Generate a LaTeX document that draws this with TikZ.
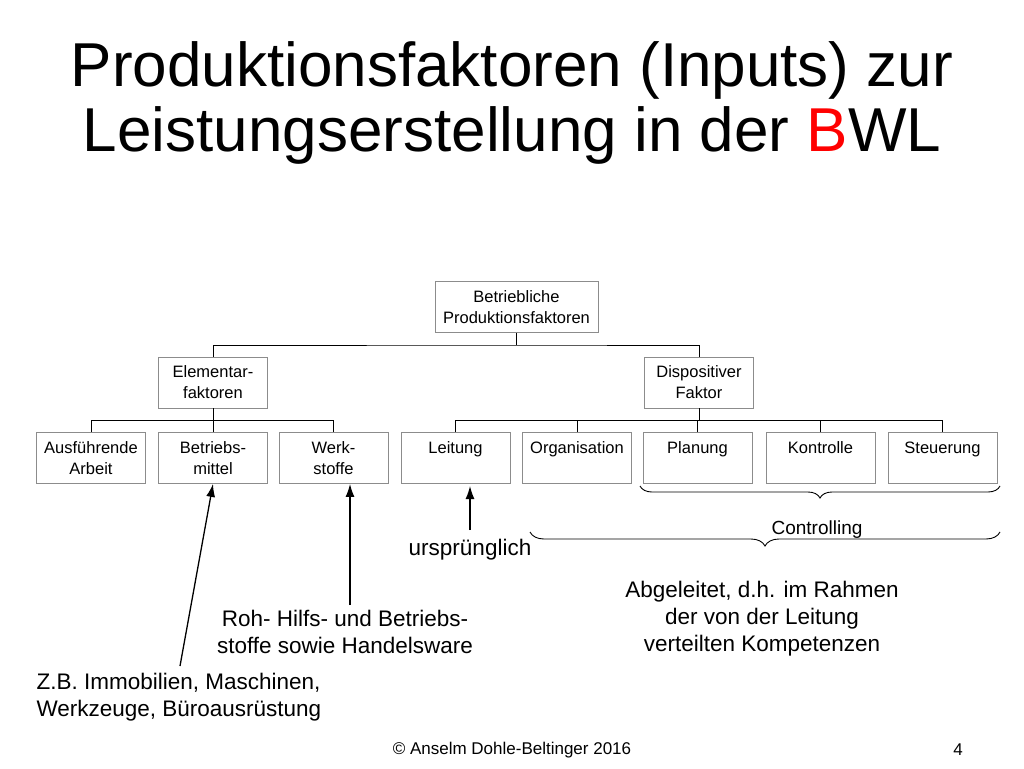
\documentclass[tikz,border=0pt]{standalone}
\usepackage{fontspec}
\setmainfont{Liberation Sans}
\usetikzlibrary{decorations.pathreplacing,arrows.meta}
\begin{document}
\begin{tikzpicture}[x=1pt,y=-1pt,
  bx/.style={draw=black!45,line width=0.8pt,minimum width=109pt,minimum height=51pt,inner sep=2pt,font=\fontsize{16.5}{21}\selectfont,align=center},
  ln/.style={draw=black,line width=0.8pt},
  ar/.style={draw=black,line width=1.3pt,-{Latex[length=13pt,width=9pt]}},
  br/.style={draw=black,line width=0.9pt,decorate,decoration={brace,amplitude=12pt}},
  lbl/.style={font=\fontsize{22.5}{27}\selectfont,align=center}]
\useasboundingbox (0,0) rectangle (1024,768);
\node[font=\fontsize{62}{65}\selectfont,align=center] (title) at (512,103) {Produktionsfaktoren (Inputs) zur\\Leistungserstellung in der \textcolor{red}{B}WL};
\node[bx,minimum width=163pt] (top) at (516.5,307) {Betriebliche\\Produktionsfaktoren};
\node[bx] (el) at (213,382.5) {Elementar-\\faktoren};
\node[bx] (di) at (699,382.5) {Dispositiver\\Faktor};
\foreach \n/\x/\t in {a/91/{Ausführende\\Arbeit},b/213/{Betriebs-\\mittel},c/333.5/{Werk-\\stoffe},d/455.5/{Leitung\\\mbox{}},e/577/{Organisation\\\mbox{}},f/697.5/{Planung\\\mbox{}},g/820.5/{Kontrolle\\\mbox{}},h/942.5/{Steuerung\\\mbox{}}}
  \node[bx] (\n) at (\x,458) {\t};
\coordinate (h1) at (516.5,345);
\draw[ln] (top.south) -- (h1);
\draw[ln] (el.north) |- (h1) -| (di.north);
\draw[ln] (el.south) -- ++(0,12) coordinate (h2);
\draw[ln] (a.north) |- (h2) -| (c.north);
\draw[ln] (b.north) -- (h2);
\draw[ln] (di.south) -- ++(0,12) coordinate (h3);
\draw[ln] (d.north) |- (h3) -| (h.north);
\foreach \n in {e,f,g} \draw[ln] (\n.north) -- (\n.north|-h3);
\coordinate (b1a) at (1000,486); \coordinate (b1b) at (640,486);
\draw[br] (b1a) -- (b1b);
\node[font=\fontsize{19}{22}\selectfont] (ctrl) at (817,530) {Controlling};
\coordinate (b2a) at (1000,532); \coordinate (b2b) at (530,532);
\draw[br,decoration={amplitude=14pt}] (b2a) -- (b2b);
\node[lbl] (abg) at (762,619) {Abgeleitet, d.h. im Rahmen\\der von der Leitung\\verteilten Kompetenzen};
\node[lbl] (urs) at (470,550) {ursprünglich};
\coordinate (u0) at (470,530);
\draw[ar] (u0) -- (470,486);
\node[lbl] (roh) at (345,632) {Roh- Hilfs- und Betriebs-\\stoffe sowie Handelsware};
\coordinate (r0) at (350,605);
\draw[ar] (r0) -- (c.south-|r0);
\node[lbl,align=left,anchor=west] (zb) at (33,697) {Z.B. Immobilien, Maschinen,\\Werkzeuge, Büroausrüstung};
\coordinate (z0) at (180,666);
\draw[ar] (z0) -- (b.south);
\node[font=\fontsize{17}{20}\selectfont] (foot) at (512,750) {© Anselm Dohle-Beltinger 2016};
\node[font=\fontsize{17}{20}\selectfont] (pg) at (958,750) {4};
\end{tikzpicture}
\end{document}
